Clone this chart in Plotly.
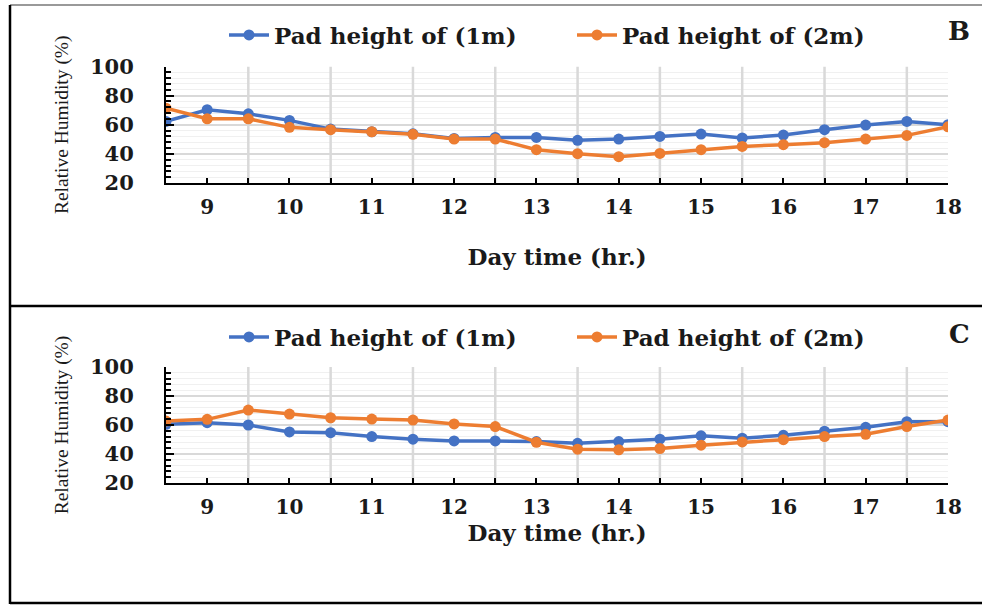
import plotly.graph_objects as go

# ---------------- data ----------------
hours = [8.5, 9, 9.5, 10, 10.5, 11, 11.5, 12, 12.5, 13, 13.5, 14, 14.5, 15, 15.5, 16, 16.5, 17, 17.5, 18]
tick_hours = [9, 10, 11, 12, 13, 14, 15, 16, 17, 18]
tick_labels = ["9", "10", "11", "12", "13", "14", "15", "16", "17", "18"]
y_range = [20, 100]

series_names = ["Pad height of (1m)", "Pad height of (2m)"]
panel_labels = ["B", "C"]

# Panel B
b_1m = [62.3, 70.3, 67.5, 63.0, 57.0, 55.2, 53.8, 50.6, 51.3, 51.3, 49.3, 50.2, 52.0, 53.6, 50.9, 52.9, 56.6, 59.8, 62.3, 60.0]
b_2m = [71.4, 64.1, 64.1, 58.2, 56.6, 55.2, 53.4, 50.2, 50.2, 42.9, 40.1, 38.1, 40.3, 42.9, 45.1, 46.3, 47.7, 50.2, 52.7, 58.6]
# Panel C
c_1m = [60.5, 61.6, 60.0, 55.2, 54.7, 52.0, 50.2, 49.0, 49.0, 48.6, 47.4, 48.6, 50.2, 52.5, 50.9, 52.9, 55.7, 58.4, 62.3, 62.3]
c_2m = [62.7, 63.9, 70.3, 67.5, 65.0, 64.1, 63.4, 60.7, 58.9, 48.1, 43.3, 42.9, 43.8, 46.1, 48.3, 49.9, 52.0, 53.6, 58.9, 63.4]

colors = ["#4472C4", "#ED7D31"]

W, H = 982, 605
TXT = "#1a1a1a"
SERIF = "DejaVu Serif"
GRID = "#D9D9D9"

fig = go.Figure()

# vertical gridlines at the half-hour positions, drawn as a background line trace
grid_hours = hours[2:19:2]
gx, gy = [], []
for h in grid_hours:
    gx += [h, h, None]
    gy += [y_range[0], y_range[1], None]

panels = [
    (b_1m, b_2m, "x", "y", "legend"),
    (c_1m, c_2m, "x2", "y2", "legend2"),
]
for (s1, s2, xa, ya, lg) in panels:
    fig.add_trace(go.Scatter(
        x=gx, y=gy, mode="lines", line=dict(color=GRID, width=2.5),
        hoverinfo="skip", showlegend=False, xaxis=xa, yaxis=ya,
    ))
    for vals, name, col in zip([s1, s2], series_names, colors):
        fig.add_trace(go.Scatter(
            x=hours, y=vals, name=name, mode="lines+markers",
            line=dict(color=col, width=3.5),
            marker=dict(color=col, size=11),
            xaxis=xa, yaxis=ya, legend=lg,
        ))

def px_x(p):
    return p / W

def px_y(p):
    return 1 - p / H

xdom = [px_x(166), px_x(948)]
ydom_top = [px_y(183), px_y(66.5)]
ydom_bot = [px_y(483), px_y(367)]

xaxis_common = dict(
    range=[hours[0], hours[-1]], domain=xdom,
    tickmode="array", tickvals=tick_hours, ticktext=tick_labels,
    ticks="inside", ticklen=5, tickwidth=2, tickcolor="black",
    showgrid=False, zeroline=False,
    showline=True, linecolor="black", linewidth=2,
    tickfont=dict(family=SERIF, size=20, color=TXT, weight="bold"),
    ticklabelstandoff=5,
    minor=dict(tick0=8.5, dtick=1, ticks="inside", ticklen=5, tickwidth=2,
               tickcolor="black", showgrid=False),
    title=dict(text="Day time (hr.)", font=dict(family=SERIF, size=23, color=TXT, weight="bold")),
)
yaxis_common = dict(
    range=y_range, dtick=20, tick0=20,
    ticks="inside", ticklen=8, tickwidth=2, tickcolor="black",
    showgrid=True, gridcolor=GRID, gridwidth=1.5,
    zeroline=False, showline=True, linecolor="black", linewidth=2,
    tickfont=dict(family=SERIF, size=21, color=TXT, weight="bold"),
    ticklabelstandoff=26,
    minor=dict(dtick=4, ticks="inside", ticklen=5, tickwidth=1.5, tickcolor="black",
               showgrid=True, gridcolor="#F0F0F0", gridwidth=1),
    title=dict(text="Relative Humidity (%)", standoff=16,
               font=dict(family="Liberation Serif", size=19.5, color=TXT)),
)

fig.update_layout(
    width=W, height=H,
    margin=dict(l=0, r=0, t=0, b=0, autoexpand=False),
    paper_bgcolor="white", plot_bgcolor="white",
    showlegend=True,
    xaxis=dict(**xaxis_common, anchor="y"),
    yaxis=dict(**yaxis_common, domain=ydom_top, anchor="x"),
    xaxis2=dict(**xaxis_common, anchor="y2"),
    yaxis2=dict(**yaxis_common, domain=ydom_bot, anchor="x2"),
)
fig.layout.xaxis.title.standoff = 31
fig.layout.xaxis2.title.standoff = 3

legend_common = dict(
    orientation="h", xanchor="left", yanchor="middle",
    font=dict(family=SERIF, size=23, color=TXT, weight="bold"),
    bgcolor="rgba(0,0,0,0)", entrywidth=293, itemwidth=40,
    tracegroupgap=0,
)
fig.update_layout(
    legend=dict(**legend_common, x=px_x(224), y=px_y(35)),
    legend2=dict(**legend_common, x=px_x(224), y=px_y(337)),
)

# panel letters
for lab, yp in zip(panel_labels, [31, 334]):
    fig.add_annotation(text=lab, x=px_x(959), y=px_y(yp), xref="paper", yref="paper",
                       showarrow=False, xanchor="center", yanchor="middle",
                       font=dict(family=SERIF, size=26, color=TXT, weight="bold"))

# frame lines
fig.add_shape(type="line", xref="paper", yref="paper", x0=px_x(10), x1=1, y0=px_y(5), y1=px_y(5),
              line=dict(color="#777777", width=1.5))
fig.add_shape(type="line", xref="paper", yref="paper", x0=px_x(10), x1=px_x(10), y0=px_y(5), y1=px_y(604),
              line=dict(color="black", width=2.5))
fig.add_shape(type="line", xref="paper", yref="paper", x0=px_x(10), x1=1, y0=px_y(306), y1=px_y(306),
              line=dict(color="black", width=2.5))
fig.add_shape(type="line", xref="paper", yref="paper", x0=px_x(10), x1=1, y0=px_y(603), y1=px_y(603),
              line=dict(color="black", width=2.5))

fig.write_html("out.html")
